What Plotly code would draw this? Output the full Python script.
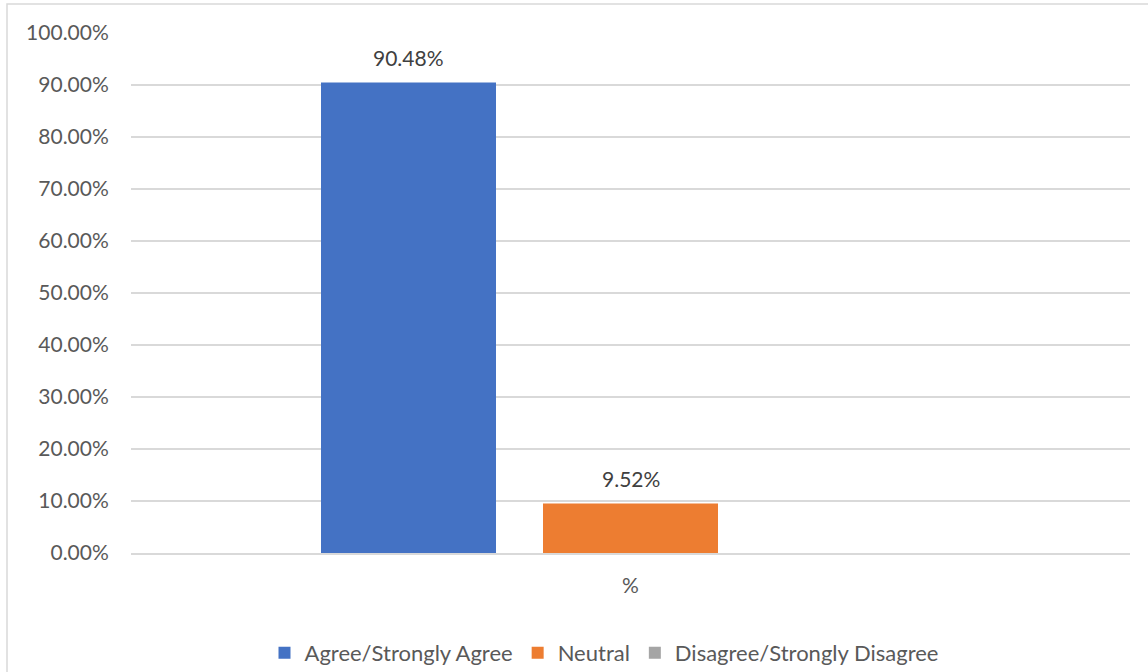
import plotly.graph_objects as go

categories = ["%"]
series_names = ["Agree/Strongly Agree", "Neutral", "Disagree/Strongly Disagree"]
series_values = [[0.9048], [0.0952], [0.0]]
series_colors = ["#4472C4", "#ED7D31", "#A5A5A5"]

W, H = 1148, 672
ML, MR, MT, MB = 131, 18, 33, 119
plot_w = W - ML - MR
plot_h = H - MT - MB
bargap = 1 / 3
bargroupgap = 0.2117
slot_px = plot_w * (1 - bargap) / len(series_names)

FONT = "Lato"
fig = go.Figure()
for name, vals, col in zip(series_names, series_values, series_colors):
    fig.add_trace(go.Bar(x=categories, y=vals, name=name, marker_color=col,
                         marker_line_width=0))

annotations = []
n = len(series_names)
for i, vals in enumerate(series_values):
    for cat, v in zip(categories, vals):
        if v > 0:
            annotations.append(dict(
                x=cat, y=v, xref="x", yref="y", text=f"{v*100:.2f}%",
                showarrow=False, yanchor="bottom", xanchor="center",
                xshift=(i - (n - 1) / 2) * slot_px, yshift=11,
                font=dict(family=FONT, size=21, color="#404040")))

# outer chart-area border
lx, ty = 7, 4
shapes = [dict(type="rect", xref="paper", yref="paper",
               x0=(lx - ML) / plot_w, x1=(W + 20 - ML) / plot_w,
               y0=-(H + 20 - MT - plot_h) / plot_h, y1=(MT + plot_h - ty) / plot_h,
               line=dict(color="#d9d9d9", width=1.5), layer="below")]

fig.update_layout(
    width=W, height=H,
    margin=dict(l=ML, r=MR, t=MT, b=MB, autoexpand=False),
    paper_bgcolor="white", plot_bgcolor="white",
    barmode="group", bargap=bargap, bargroupgap=bargroupgap,
    font=dict(family=FONT, size=21, color="#595959"),
    yaxis=dict(range=[0, 1], dtick=0.1, tickformat=".2%",
               gridcolor="#d9d9d9", gridwidth=1.5, zeroline=False,
               showline=False, ticks="outside", ticklen=17,
               tickcolor="rgba(0,0,0,0)", fixedrange=True, automargin=False),
    xaxis=dict(showgrid=False, zeroline=False,
               showline=True, linecolor="#d9d9d9", linewidth=1.5,
               ticks="outside", ticklen=13, tickcolor="rgba(0,0,0,0)",
               automargin=False),
    legend=dict(orientation="h", x=(604 - ML) / plot_w, xanchor="center",
                y=-(653 - MT - plot_h) / plot_h, yanchor="middle",
                font=dict(family=FONT, size=22, color="#595959"),
                bgcolor="rgba(0,0,0,0)"),
    annotations=annotations,
    shapes=shapes,
)

fig.write_html("out.html")
